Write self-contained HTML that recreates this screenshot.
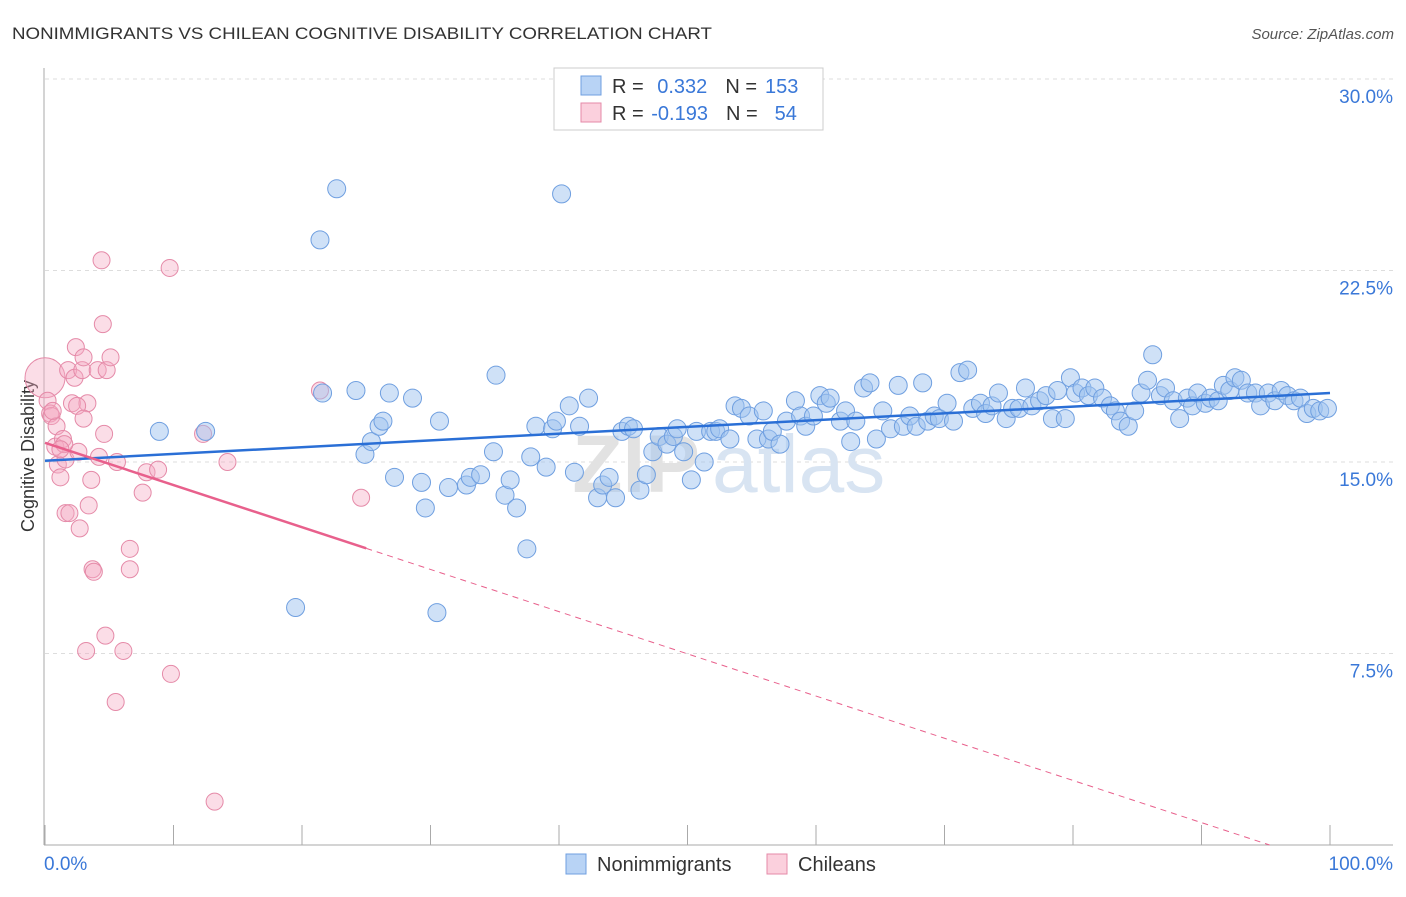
<!DOCTYPE html>
<html><head><meta charset="utf-8">
<style>
body{margin:0;background:#fff;font-family:"Liberation Sans",sans-serif;}
svg text{font-family:"Liberation Sans",sans-serif;}
</style></head>
<body>
<svg id="chart" width="1406" height="892" viewBox="0 0 1406 892" xmlns="http://www.w3.org/2000/svg">
<text x="12" y="39" font-size="17" fill="#333" textLength="700" lengthAdjust="spacingAndGlyphs">NONIMMIGRANTS VS CHILEAN COGNITIVE DISABILITY CORRELATION CHART</text>
<text x="1394" y="39" font-size="15" fill="#555" text-anchor="end" font-style="italic">Source: ZipAtlas.com</text>
<g id="grid"></g>
<text x="700" y="492" font-size="82" font-weight="bold" fill="#e2e2e2" text-anchor="end">ZIP</text>
<text x="712" y="492" font-size="82" fill="#d8e4f2">atlas</text>
<line x1="44" y1="68" x2="44" y2="845" stroke="#aaa" stroke-width="1"/>
<line x1="44" y1="845" x2="1393" y2="845" stroke="#aaa" stroke-width="1"/>
<g id="xticks"></g>
<g id="ylabels"></g>
<text x="44" y="870" font-size="19" fill="#3a78d8">0.0%</text>
<text x="1393" y="870" font-size="19" fill="#3a78d8" text-anchor="end">100.0%</text>
<text transform="translate(34,456) rotate(-90)" font-size="18" fill="#333" text-anchor="middle">Cognitive Disability</text>
<g id="pinkpts"></g>
<g id="bluepts"></g>
<g id="trends"></g>
<g>
<rect x="554" y="68" width="269" height="62" fill="#fff" stroke="#ccc"/>
<rect x="581" y="76" width="20" height="19" fill="#b8d3f5" stroke="#6f9fe0"/>
<rect x="581" y="103" width="20" height="19" fill="#fbd0dd" stroke="#e58aa8"/>
<text x="612" y="93" font-size="20" fill="#333">R = <tspan fill="#3a78d8" dx="8">0.332</tspan><tspan fill="#333" dx="18">N =</tspan><tspan fill="#3a78d8" dx="8">153</tspan></text>
<text x="612" y="120" font-size="20" fill="#333">R = <tspan fill="#3a78d8" dx="2">-0.193</tspan><tspan fill="#333" dx="18">N =</tspan><tspan fill="#3a78d8" dx="17">54</tspan></text>
</g>
<g>
<rect x="566" y="854" width="20" height="20" fill="#b8d3f5" stroke="#6f9fe0"/>
<text x="597" y="871" font-size="20" fill="#333">Nonimmigrants</text>
</g>
<g>
<rect x="767" y="854" width="20" height="20" fill="#fbd0dd" stroke="#e58aa8"/>
<text x="798" y="871" font-size="20" fill="#333">Chileans</text>
</g>
</svg>
<script>
const yTicks=[7.5,15,22.5,30];
const yTickLabels=["7.5%","15.0%","22.5%","30.0%"];
const xTicks=[0,10,20,30,40,50,60,70,80,90,100];
const blueX=[8.9,12.5,19.5,21.4,21.6,22.7,24.2,24.9,25.4,26.0,26.3,26.8,27.2,28.6,29.3,29.6,30.7,30.5,31.4,32.8,33.1,33.9,35.1,34.9,35.8,36.2,36.7,37.5,37.8,38.2,39.0,39.5,39.8,40.2,40.8,41.2,41.6,42.3,43.0,43.4,43.9,44.4,44.9,45.4,45.8,46.3,46.8,47.3,47.8,48.4,48.9,49.2,49.7,50.3,50.7,51.3,51.8,52.2,52.5,53.3,53.7,54.2,54.8,55.4,55.9,56.3,56.6,57.2,57.7,58.4,58.8,59.2,59.8,60.3,60.8,61.1,61.9,62.3,62.7,63.1,63.7,64.2,64.7,65.2,65.8,66.4,66.8,67.3,67.8,68.3,68.7,69.2,69.6,70.2,70.7,71.2,71.8,72.2,72.8,73.2,73.7,74.2,74.8,75.3,75.8,76.3,76.8,77.4,77.9,78.4,78.8,79.4,79.8,80.2,80.7,81.2,81.7,82.3,82.9,83.3,83.7,84.3,84.8,85.3,85.8,86.2,86.8,87.2,87.8,88.3,88.9,89.3,89.7,90.3,90.7,91.3,91.7,92.2,92.6,93.1,93.6,94.2,94.6,95.2,95.7,96.2,96.7,97.2,97.7,98.2,98.7,99.2,99.8];
const blueY=[16.2,16.2,9.3,23.7,17.7,25.7,17.8,15.3,15.8,16.4,16.6,17.7,14.4,17.5,14.2,13.2,16.6,9.1,14.0,14.1,14.4,14.5,18.4,15.4,13.7,14.3,13.2,11.6,15.2,16.4,14.8,16.3,16.6,25.5,17.2,14.6,16.4,17.5,13.6,14.1,14.4,13.6,16.2,16.4,16.3,13.9,14.5,15.4,16.0,15.7,16.0,16.3,15.4,14.3,16.2,15.0,16.2,16.2,16.3,15.9,17.2,17.1,16.8,15.9,17.0,15.9,16.2,15.7,16.6,17.4,16.8,16.4,16.8,17.6,17.3,17.5,16.6,17.0,15.8,16.6,17.9,18.1,15.9,17.0,16.3,18.0,16.4,16.8,16.4,18.1,16.6,16.8,16.7,17.3,16.6,18.5,18.6,17.1,17.3,16.9,17.2,17.7,16.7,17.1,17.1,17.9,17.2,17.4,17.6,16.7,17.8,16.7,18.3,17.7,17.9,17.6,17.9,17.5,17.2,17.0,16.6,16.4,17.0,17.7,18.2,19.2,17.6,17.9,17.4,16.7,17.5,17.2,17.7,17.3,17.5,17.4,18.0,17.8,18.3,18.2,17.7,17.7,17.2,17.7,17.4,17.8,17.6,17.4,17.5,16.9,17.1,17.0,17.1];
const pinkX=[0.2,0.4,0.5,0.8,0.9,1.0,1.2,1.4,1.6,1.6,1.8,1.9,2.1,2.3,2.4,2.6,2.7,2.9,3.0,3.2,3.3,3.4,3.6,3.7,3.8,4.1,4.4,4.5,4.6,4.7,4.8,5.1,5.5,5.6,6.1,6.6,6.6,7.6,7.9,8.8,9.7,9.8,12.3,13.2,14.2,21.4,24.6,1.5,2.5,4.2,0.6,1.2,3.0];
const pinkY=[17.4,16.9,16.8,15.6,16.4,14.9,14.4,15.9,13.0,15.1,18.6,13.0,17.3,18.3,19.5,15.4,12.4,18.6,19.1,7.6,17.3,13.3,14.3,10.8,10.7,18.6,22.9,20.4,16.1,8.2,18.6,19.1,5.6,15.0,7.6,11.6,10.8,13.8,14.6,14.7,22.6,6.7,16.1,1.7,15.0,17.8,13.6,15.7,17.2,15.2,17.0,15.5,16.7];
const bigPoint=[0,18.3];
const blueTrend=[15.05,17.7];
const pinkTrend=[15.75,0,95.3,25];
const X0=45,X1=1330,Y0=845,YPER=191.5/7.5;
function sx(v){return X0+(X1-X0)*v/100;}
function sy(v){return Y0-v*YPER;}
const NS="http://www.w3.org/2000/svg";
function mk(tag,attrs,parent){const e=document.createElementNS(NS,tag);for(const k in attrs)e.setAttribute(k,attrs[k]);parent.appendChild(e);return e;}
const grid=document.getElementById('grid');
yTicks.forEach((t,i)=>{
  const l=mk('line',{x1:45,x2:1393,y1:sy(t),y2:sy(t),stroke:'#ddd','stroke-dasharray':'4,4'},grid);
  
  
  const tx=mk('text',{x:1393,y:sy(t)+24,'font-size':19,fill:'#3a78d8','text-anchor':'end'},document.getElementById('ylabels'));
  tx.textContent=yTickLabels[i];
  
  
});
xTicks.forEach(t=>{
  const l=mk('line',{x1:sx(t),x2:sx(t),y1:825,y2:845,stroke:'#aaa'},document.getElementById('xticks'));
  
  
});
const pg=document.getElementById('pinkpts');
const bc=mk('circle',{cx:sx(bigPoint[0]),cy:sy(bigPoint[1]),r:20,fill:'rgba(245,170,195,0.4)',stroke:'#e58aa8','stroke-width':1},pg);


pinkX.forEach((x,i)=>{
  const c=mk('circle',{cx:sx(x),cy:sy(pinkY[i]),r:8.5,fill:'rgba(245,170,195,0.4)',stroke:'#e58aa8','stroke-width':1},pg);
  
  
});
const bg=document.getElementById('bluepts');
blueX.forEach((x,i)=>{
  const c=mk('circle',{cx:sx(x),cy:sy(blueY[i]),r:9,fill:'rgba(160,196,240,0.5)',stroke:'#6f9fe0','stroke-width':1},bg);
  
  
});
const tg=document.getElementById('trends');
const bl=mk('line',{x1:sx(0),y1:sy(blueTrend[0]),x2:sx(100),y2:sy(blueTrend[1]),stroke:'#2a6fd6','stroke-width':2.5},tg);


const slope=(pinkTrend[1]-pinkTrend[0])/pinkTrend[2];
const pyAt=x=>pinkTrend[0]+slope*x;
const pl=mk('line',{x1:sx(0),y1:sy(pyAt(0)),x2:sx(pinkTrend[3]),y2:sy(pyAt(pinkTrend[3])),stroke:'#e8608c','stroke-width':2.5},tg);


const pd=mk('line',{x1:sx(pinkTrend[3]),y1:sy(pyAt(pinkTrend[3])),x2:sx(pinkTrend[2]),y2:sy(0),stroke:'#e8608c','stroke-width':1,'stroke-dasharray':'6,5'},tg);


</script>
</body></html>
